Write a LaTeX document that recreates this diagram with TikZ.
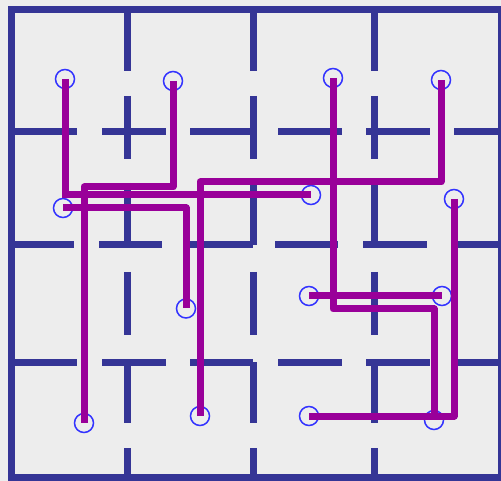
\documentclass[tikz,border=0pt]{standalone}
\definecolor{bgc}{RGB}{237,237,237}
\definecolor{wallc}{RGB}{53,53,150}
\definecolor{pathc}{RGB}{153,0,153}
\definecolor{ringc}{RGB}{51,51,255}
\begin{document}
\begin{tikzpicture}[x=1pt,y=-1pt,
  wall/.style={line width=7pt, draw=wallc},
  route/.style={line width=7pt, draw=pathc, line join=round},
  ring/.style={circle, draw=ringc, line width=1.5pt, minimum size=19pt, inner sep=0pt}]
\fill[bgc] (0,0) rectangle (501,481);
\useasboundingbox (0,0) rectangle (501,481);
% outer wall
\draw[wall] (11,10) rectangle (501,477.5);
% inner vertical walls
\foreach \x in {127.5,253,374}
  \foreach \a/\b in {10/71,96/159,183/245,272/335,362/423,448/477}
    \draw[wall] (\x,\a) -- (\x,\b);
% inner horizontal walls
\foreach \y in {132,362}
  \foreach \a/\b in {11/77,102/166,190/253,278/342,366/430,454/501}
    \draw[wall] (\a,\y) -- (\b,\y);
\foreach \a/\b in {11/74,99/162,187/253,275/338,363/427,451/501}
  \draw[wall] (\a,245) -- (\b,245);
% rings
\node[ring] (c1) at (65,79) {};
\node[ring] (c2) at (173,81) {};
\node[ring] (c3) at (333,78) {};
\node[ring] (c4) at (441,80) {};
\node[ring] (c5) at (63,208) {};
\node[ring] (c6) at (311,195) {};
\node[ring] (c7) at (454,199) {};
\node[ring] (c8) at (186,308.5) {};
\node[ring] (c9) at (309,296) {};
\node[ring] (c10) at (442,296) {};
\node[ring] (c11) at (84,423) {};
\node[ring] (c12) at (200,416) {};
\node[ring] (c13) at (309,416) {};
\node[ring] (c14) at (434,420) {};
% turning points
\coordinate (b1) at (173,187);
\coordinate (d1) at (200,182);
\coordinate (e1) at (333,309);
% routes
\draw[route, line join=miter] (c1.center) |- (c6.center);
\draw[route] (c2.center) -- (b1) -| (c11.center);
\draw[route] (c5.center) -| (c8.center);
\draw[route] (c12.center) -- (d1) -| (c4.center);
\draw[route] (c3.center) -- (e1) -| (c14.center);
\draw[route] (c9.center) -- (c10.center);
\draw[route] (c7.center) |- (c13.center);
\end{tikzpicture}
\end{document}
